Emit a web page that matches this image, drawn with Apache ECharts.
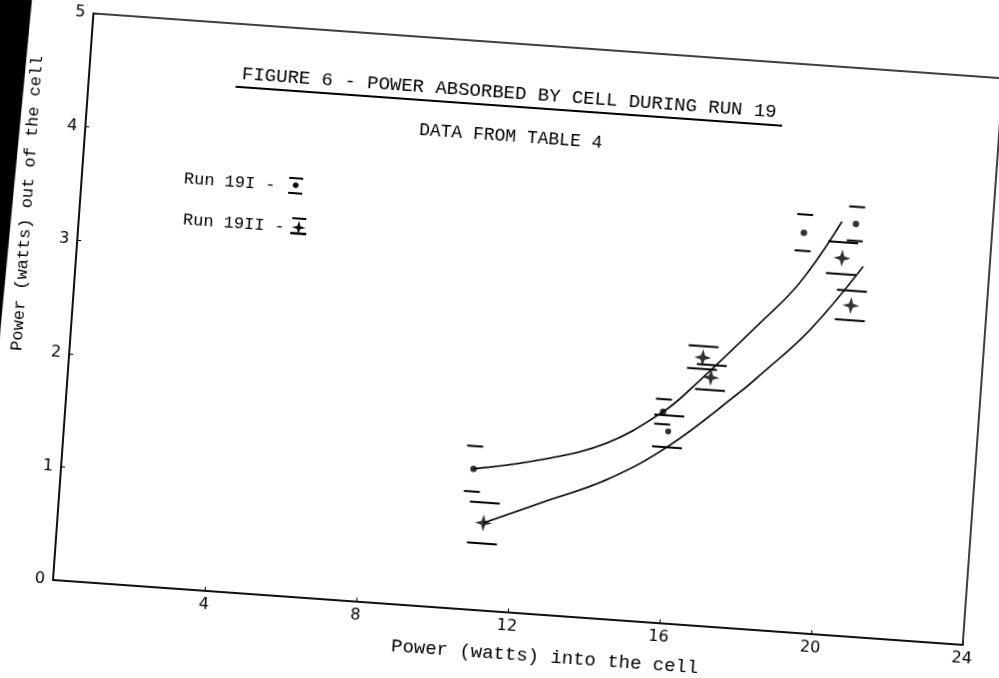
<!DOCTYPE html>
<html><head><meta charset="utf-8">
<script src="https://cdn.jsdelivr.net/npm/echarts@6/dist/echarts.min.js"></script>
<style>
html,body{margin:0;padding:0;background:#fff;overflow:hidden;width:999px;height:678px;}
#paper{position:absolute;left:-60px;top:-100px;width:1100px;height:820px;background:#fff;
transform-origin:113px 680px;transform:rotate(4.08deg);}
</style></head>
<body><div id="paper"></div>
<script>
// ---- data ----
const xTicks = [0, 4, 8, 12, 16, 20, 24];
const yTicks = [0, 1, 2, 3, 4, 5];

// Run 19I (dots) : power in, power out, error
const run1X   = [10.83, 15.70, 19.06, 20.41];
const run1Y   = [1.24, 1.86, 3.52, 3.63];
const run1Err = [0.20, 0.11, 0.16, 0.15];

// Run 19II (stars)
const run2X   = [11.19, 15.87, 16.64, 16.89, 20.11, 20.43];
const run2Y   = [0.77, 1.69, 2.36, 2.19, 3.32, 2.91];
const run2Err = [0.18, 0.14, 0.10, 0.11, 0.14, 0.13];
const run2Mark = ['star', 'dot', 'star', 'star', 'star', 'star'];

// hand-drawn fitted curves
const curve1X = [10.83, 12.56, 14.28, 15.70, 16.36, 18.08, 19.05, 20.04];
const curve1Y = [1.24, 1.36, 1.55, 1.86, 2.07, 2.70, 3.08, 3.64];
const curve2X = [11.19, 12.64, 14.36, 15.94, 17.68, 18.17, 19.40, 20.68];
const curve2Y = [0.77, 0.98, 1.23, 1.57, 2.08, 2.24, 2.67, 3.26];

const titleText = 'FIGURE 6 - POWER ABSORBED BY CELL DURING RUN 19';
const subText = 'DATA FROM TABLE 4';
const xName = 'Power (watts) into the cell';
const yName = 'Power (watts) out of the cell';
const leg1 = 'Run 19I -';
const leg2 = 'Run 19II -';

// ---- build ----
const STAR = 'path://M0,-10 L2.4,-2.4 L10,0 L2.4,2.4 L0,10 L-2.4,2.4 L-10,0 L-2.4,-2.4 Z';
const zip = (a, b) => a.map((v, i) => [v, b[i]]);
const zip3 = (a, b, c) => a.map((v, i) => [v, b[i], c[i]]);
const MONO = '"Liberation Mono","DejaVu Sans Mono",monospace';

function errBars(w) {
  return function (params, api) {
    const x = api.value(0), y = api.value(1), e = api.value(2);
    const a = api.coord([x, y + e]), b = api.coord([x, y - e]);
    return { type: 'group', children: [
      { type: 'line', shape: { x1: a[0] - w / 2, y1: a[1], x2: a[0] + w / 2, y2: a[1] }, style: { stroke: '#000', lineWidth: 2 } },
      { type: 'line', shape: { x1: b[0] - w / 2, y1: b[1], x2: b[0] + w / 2, y2: b[1] }, style: { stroke: '#000', lineWidth: 2 } }
    ]};
  };
}

function starPts(cx, cy, r, k) {
  const p = [];
  for (let i = 0; i < 8; i++) {
    const ang = i * Math.PI / 4 - Math.PI / 2;
    const rr = i % 2 === 0 ? r : r * k;
    p.push([cx + rr * Math.cos(ang), cy + rr * Math.sin(ang)]);
  }
  return p;
}

const chart = echarts.init(document.getElementById('paper'), null, { renderer: 'canvas' });
chart.setOption({
  backgroundColor: '#fff',
  animation: false,
  grid: { left: 113, top: 112, width: 912, height: 568, show: true, borderColor: '#000', borderWidth: 1.5, backgroundColor: 'transparent' },
  xAxis: {
    type: 'value', min: xTicks[0], max: xTicks[xTicks.length - 1], interval: 4,
    axisLine: { lineStyle: { color: '#000', width: 1.5 } },
    axisTick: { inside: true, length: 4, lineStyle: { color: '#000' } },
    splitLine: { show: false },
    axisLabel: { color: '#000', fontSize: 16, fontFamily: 'DejaVu Sans', margin: 6,
      formatter: v => (v === 0 ? '' : String(v)) }
  },
  yAxis: {
    type: 'value', min: yTicks[0], max: yTicks[yTicks.length - 1], interval: 1,
    axisLine: { lineStyle: { color: '#000', width: 1.5 } },
    axisTick: { inside: true, length: 4, lineStyle: { color: '#000' } },
    splitLine: { show: false },
    axisLabel: { color: '#000', fontSize: 16, fontFamily: 'DejaVu Sans', margin: 8 }
  },
  graphic: [
    { type: 'polygon', shape: { points: [[0, 0], [53.2, 0], [33.4, 820], [0, 820]] }, style: { fill: '#000' }, silent: true },
    { type: 'text', x: 533.5, y: 162, style: { text: titleText, font: '19px ' + MONO, fill: '#000', textAlign: 'center', textVerticalAlign: 'middle' } },
    { type: 'line', shape: { x1: 260, y1: 175, x2: 808, y2: 175 }, style: { stroke: '#000', lineWidth: 2 } },
    { type: 'text', x: 538, y: 205, style: { text: subText, font: '18px ' + MONO, fill: '#000', textAlign: 'center', textVerticalAlign: 'middle' } },
    { type: 'text', x: 215, y: 270, style: { text: leg1, font: '17px ' + MONO, fill: '#000', textAlign: 'left', textVerticalAlign: 'middle' } },
    { type: 'text', x: 217, y: 311, style: { text: leg2, font: '17px ' + MONO, fill: '#000', textAlign: 'left', textVerticalAlign: 'middle' } },
    { type: 'line', shape: { x1: 320, y1: 262, x2: 334, y2: 262 }, style: { stroke: '#000', lineWidth: 2 } },
    { type: 'circle', shape: { cx: 327, cy: 269, r: 2.8 }, style: { fill: '#000' } },
    { type: 'line', shape: { x1: 320, y1: 277, x2: 334, y2: 277 }, style: { stroke: '#000', lineWidth: 2 } },
    { type: 'line', shape: { x1: 326, y1: 302, x2: 340, y2: 302 }, style: { stroke: '#000', lineWidth: 2 } },
    { type: 'polygon', shape: { points: starPts(333, 311, 7, 0.3) }, style: { fill: '#000' } },
    { type: 'line', shape: { x1: 325, y1: 317, x2: 341, y2: 317 }, style: { stroke: '#000', lineWidth: 2.5 } },
    { type: 'text', x: 60, y: 306, rotation: Math.PI / 2, style: { text: yName, font: '17px ' + MONO, fill: '#000', textAlign: 'center', textVerticalAlign: 'middle' } },
    { type: 'text', x: 455, y: 722, style: { text: xName, font: '19px ' + MONO, fill: '#000', textAlign: 'left', textVerticalAlign: 'middle' } }
  ],
  series: [
    { type: 'line', data: zip(curve1X, curve1Y), smooth: 0.4, showSymbol: false, lineStyle: { color: '#000', width: 1.6 }, z: 2 },
    { type: 'line', data: zip(curve2X, curve2Y), smooth: 0.4, showSymbol: false, lineStyle: { color: '#000', width: 1.6 }, z: 2 },
    { type: 'custom', data: zip3(run1X, run1Y, run1Err), renderItem: errBars(16), z: 3 },
    { type: 'custom', data: zip3(run2X, run2Y, run2Err), renderItem: errBars(30), z: 3 },
    { type: 'scatter', data: zip(run1X, run1Y), symbol: 'circle', symbolSize: 6.5, itemStyle: { color: '#000' }, z: 4 },
    { type: 'scatter', z: 4, itemStyle: { color: '#000' },
      data: run2X.map((x, i) => run2Mark[i] === 'dot'
        ? { value: [x, run2Y[i]], symbol: 'circle', symbolSize: 6 }
        : { value: [x, run2Y[i]], symbol: STAR, symbolSize: 17 }) }
  ]
});
</script>
</body></html>
